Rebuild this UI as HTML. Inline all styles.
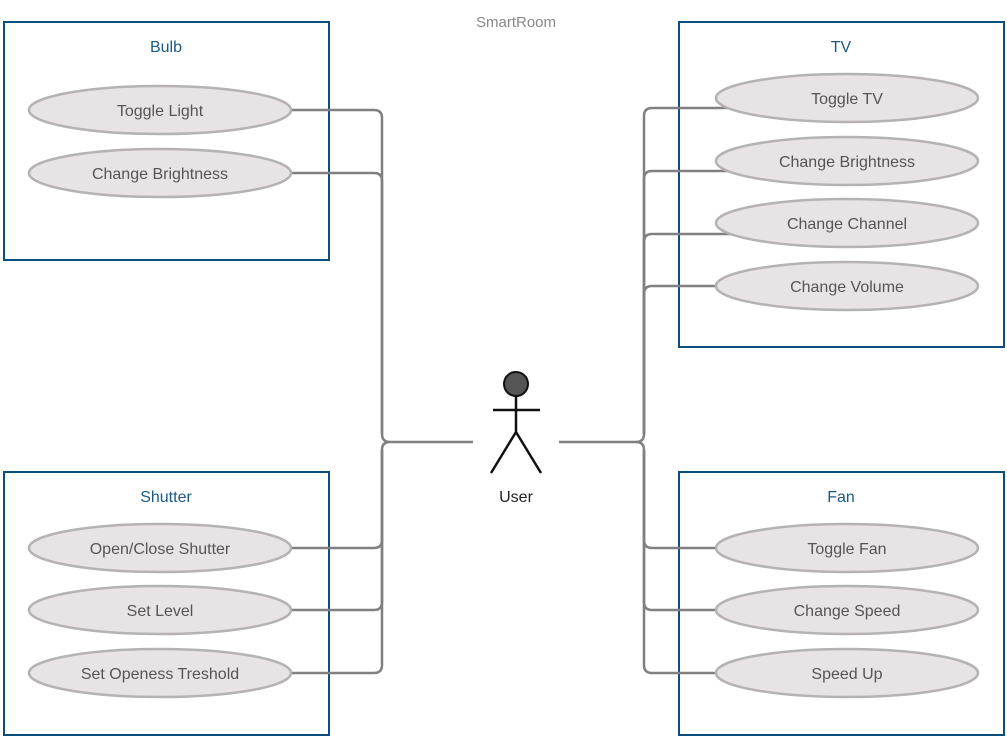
<!DOCTYPE html>
<html><head><style>body{margin:0;background:#fff}svg{display:block}</style></head><body>
<svg width="1007" height="747" xmlns="http://www.w3.org/2000/svg" font-family="'Liberation Sans',sans-serif">
<rect width="1007" height="747" fill="#fff"/>
<text x="516" y="27" text-anchor="middle" font-size="15" fill="#888">SmartRoom</text>
<g fill="none" stroke="#0d4f7c" stroke-width="2">
<rect x="4" y="22" width="325" height="238"/>
<rect x="4" y="472" width="325" height="263"/>
<rect x="679" y="22" width="325" height="325"/>
<rect x="679" y="472" width="325" height="263"/>
</g>
<g font-size="16" fill="#1a5a85" text-anchor="middle">
<text x="166" y="52">Bulb</text><text x="166" y="502">Shutter</text>
<text x="841" y="52">TV</text><text x="841" y="502">Fan</text>
</g>
<g fill="none" stroke="#808080" stroke-width="2.5">
<path d="M280 110 H374 Q382 110 382 118 V434 Q382 442 390 442 H473"/>
<path d="M280 173 H374 Q382 173 382 181 V434"/>
<path d="M280 548 H374 Q382 548 382 540 V450 Q382 442 390 442"/>
<path d="M280 610 H374 Q382 610 382 602 V450"/>
<path d="M280 673 H374 Q382 673 382 665 V450"/>
<path d="M740 108 H652 Q644 108 644 116 V434 Q644 442 636 442 H559"/>
<path d="M740 171 H652 Q644 171 644 179 V434"/>
<path d="M740 234 H652 Q644 234 644 242 V434"/>
<path d="M740 286 H652 Q644 286 644 294 V434"/>
<path d="M740 548 H652 Q644 548 644 540 V450 Q644 442 636 442"/>
<path d="M740 610 H652 Q644 610 644 602 V450"/>
<path d="M740 673 H652 Q644 673 644 665 V450"/>
</g>
<g fill="#e8e4e6" stroke="#b5b2b3" stroke-width="2.5">
<ellipse cx="160" cy="110" rx="131" ry="24"/><ellipse cx="160" cy="173" rx="131" ry="24"/>
<ellipse cx="160" cy="548" rx="131" ry="24"/><ellipse cx="160" cy="610" rx="131" ry="24"/><ellipse cx="160" cy="673" rx="131" ry="24"/>
<ellipse cx="847" cy="98" rx="131" ry="24"/><ellipse cx="847" cy="161" rx="131" ry="24"/><ellipse cx="847" cy="223" rx="131" ry="24"/><ellipse cx="847" cy="286" rx="131" ry="24"/>
<ellipse cx="847" cy="548" rx="131" ry="24"/><ellipse cx="847" cy="610" rx="131" ry="24"/><ellipse cx="847" cy="673" rx="131" ry="24"/>
</g>
<g font-size="16" fill="#555" text-anchor="middle">
<text x="160" y="116">Toggle Light</text><text x="160" y="179">Change Brightness</text>
<text x="160" y="554">Open/Close Shutter</text><text x="160" y="616">Set Level</text><text x="160" y="679">Set Openess Treshold</text>
<text x="847" y="104">Toggle TV</text><text x="847" y="167">Change Brightness</text><text x="847" y="229">Change Channel</text><text x="847" y="292">Change Volume</text>
<text x="847" y="554">Toggle Fan</text><text x="847" y="616">Change Speed</text><text x="847" y="679">Speed Up</text>
</g>
<circle cx="516" cy="384" r="12" fill="#555" stroke="#111" stroke-width="2"/>
<g stroke="#111" stroke-width="2.5" fill="none">
<path d="M516 396 V432 M493 410 H540 M516 432 L491 473 M516 432 L541 473"/>
</g>
<text x="516" y="502" text-anchor="middle" font-size="16" fill="#222">User</text>
</svg>
</body></html>
